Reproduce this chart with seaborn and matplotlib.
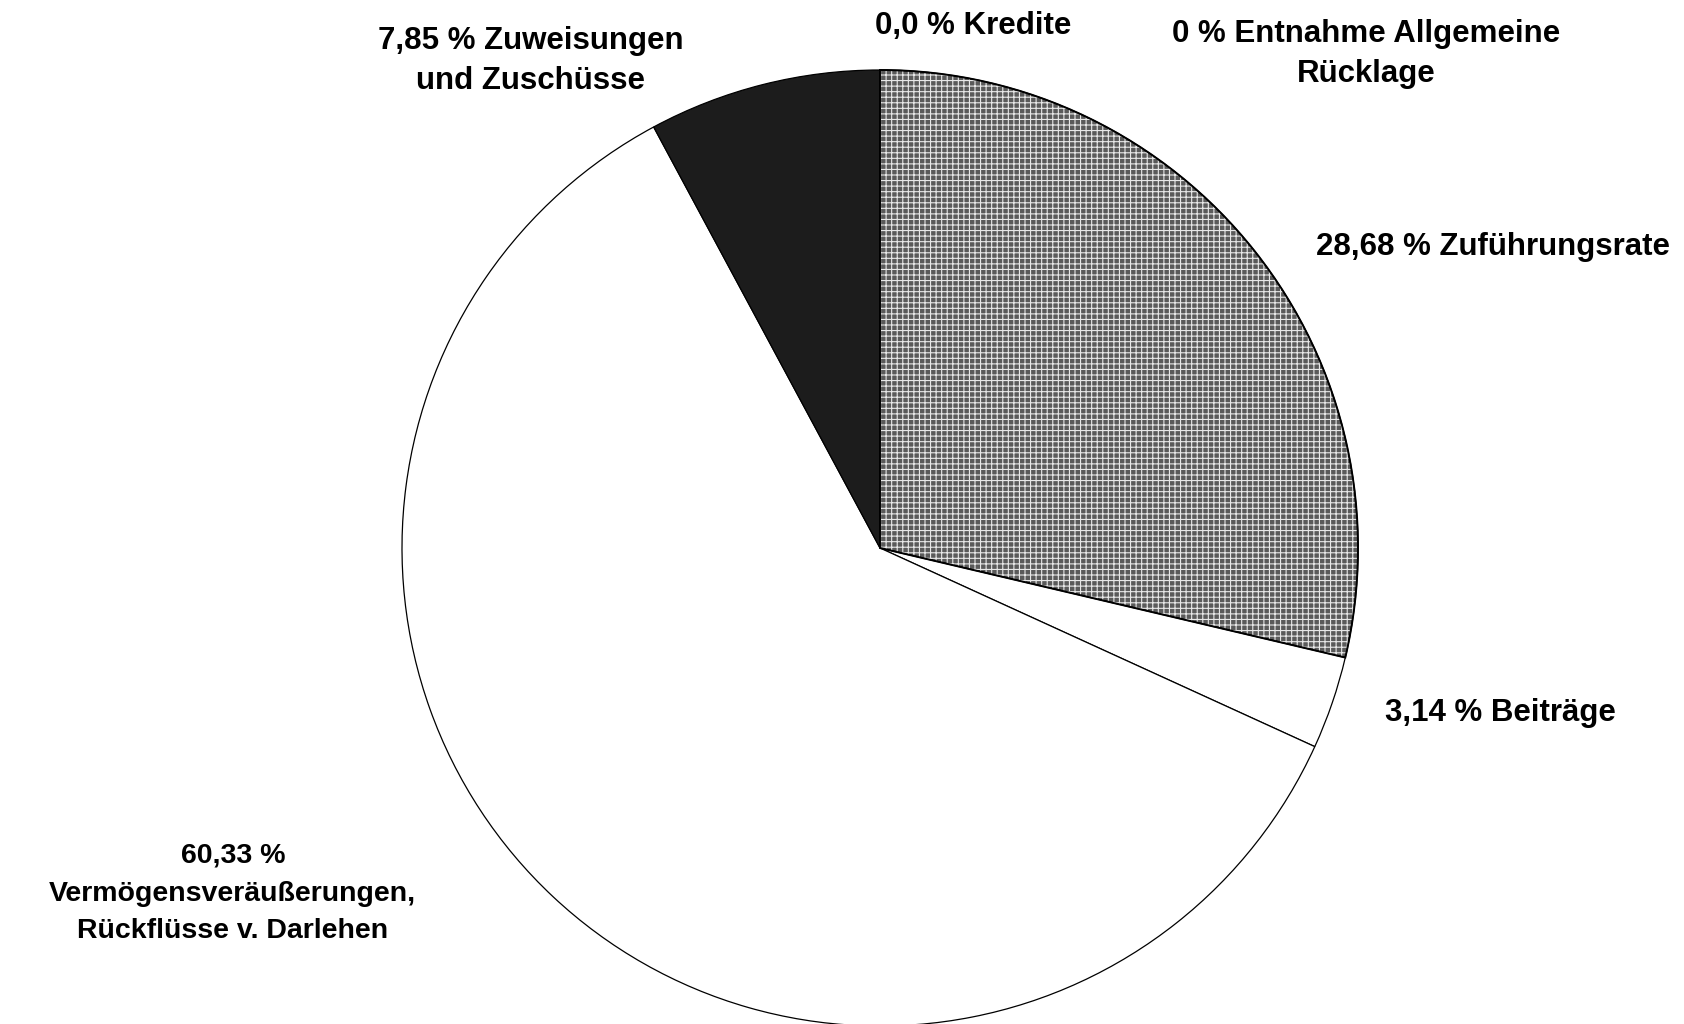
import matplotlib
matplotlib.use("Agg")
import matplotlib.pyplot as plt
from matplotlib.patches import Wedge
import seaborn as sns

# shares in percent, clockwise from 12 o'clock
categories = [
    "Kredite",
    "Entnahme Allgemeine Rücklage",
    "Zuführungsrate",
    "Beiträge",
    "Vermögensveräußerungen, Rückflüsse v. Darlehen",
    "Zuweisungen und Zuschüsse",
]
shares = [0.0, 0.0, 28.68, 3.14, 60.33, 7.85]
labels = [
    "0,0 % Kredite",
    "0 % Entnahme Allgemeine\nRücklage",
    "28,68 % Zuführungsrate",
    "3,14 % Beiträge",
    "60,33 %\nVermögensveräußerungen,\nRückflüsse v. Darlehen",
    "7,85 % Zuweisungen\nund Zuschüsse",
]

sns.set_theme(style="white")
plt.rcParams["font.family"] = ["Liberation Sans", "DejaVu Sans"]
plt.rcParams["hatch.linewidth"] = 0.8

colors = ["#5a5a5a", "#5a5a5a", "#5a5a5a", "#ffffff", "#ffffff", "#1c1c1c"]

fig = plt.figure(figsize=(16.84, 10.24), dpi=100)
ax = fig.add_axes([0, 0, 1, 1])

wedges, _ = ax.pie(
    shares,
    colors=colors,
    startangle=90,
    counterclock=False,
    wedgeprops={"edgecolor": "black", "linewidth": 0.9},
)

# grid texture on the Zuführungsrate slice
w = wedges[2]
ax.add_patch(Wedge(w.center, w.r, w.theta1, w.theta2, facecolor="none",
                   edgecolor="#e8e8e8", hatch="+++", linewidth=0, zorder=w.get_zorder() + 0.1))
ax.add_patch(Wedge(w.center, w.r, w.theta1, w.theta2, facecolor="none",
                   edgecolor="black", linewidth=1.4, zorder=w.get_zorder() + 0.2))

# label anchors (data units, pie radius = 1)
label_pos = [
    (0.195, 1.092),
    (1.017, 1.033),
    (1.282, 0.630),
    (1.299, -0.345),
    (-1.354, -0.723),
    (-0.731, 1.019),
]
label_size = [22.5, 22.5, 22.5, 22.5, 20.5, 22.5]
label_spacing = [1.42, 1.42, 1.42, 1.42, 1.58, 1.42]
for txt, (x, y), fs, ls in zip(labels, label_pos, label_size, label_spacing):
    ax.text(x, y, txt, ha="center", va="center", fontsize=fs,
            fontweight="bold", linespacing=ls, color="black")

ax.set_aspect("auto")
ax.set_xlim(-880 / 478, (1684 - 880) / 478)
ax.set_ylim((548 - 1024) / 478, 548 / 478)
ax.axis("off")

fig.savefig("out.png", dpi=100, facecolor="white")
